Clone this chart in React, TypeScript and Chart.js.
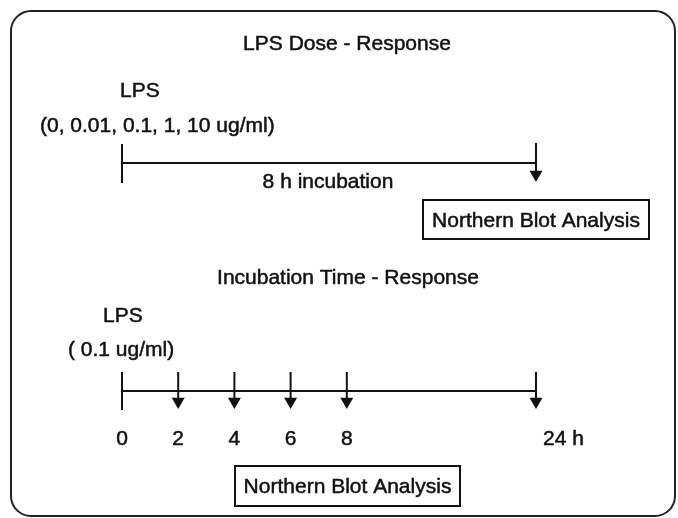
import React, { useEffect, useRef } from "react";
import { Chart, registerables } from "chart.js";

Chart.register(...registerables);

// ---------- data ----------
const doseTitle = "LPS Dose - Response";
const timeTitle = "Incubation Time - Response";
const agentLabel = "LPS";
const doseValues = [0, 0.01, 0.1, 1, 10];
const doseUnit = "ug/ml";
const fixedDose = [0.1];
const incubationHours = [8];
const sampleHours = [0, 2, 4, 6, 8, 24];
const assayLabel = "Northern Blot Analysis";

// ---------- layout (diagram units = px) ----------
const W = 678;
const H = 518;
const T0 = 122; // timeline origin
const TEND = 536; // timeline end
const PX_PER_H = 28.1;
const hourX = (h: number, last: number) => (h === last ? TEND : T0 + h * PX_PER_H);

const INK = "#111";
const FONT = '21px "Liberation Sans", Arial, sans-serif';
const HEAD = 7.5;

const upper = { lineY: 163, tickTop: 144, tickBot: 183, arrowTop: 143, tip: 182 };
const lower = { lineY: 391, tickTop: 372, tickBot: 410, arrowTop: 372, tip: 409 };

export default function App() {
  const ref = useRef<HTMLCanvasElement | null>(null);

  useEffect(() => {
    if (!ref.current) return;
    const lastH = sampleHours[sampleHours.length - 1];
    const seg = (pts: { x: number; y: number }[]) => ({
      type: "line" as const,
      data: pts,
      borderColor: INK,
      borderWidth: 2,
      pointRadius: 0,
      showLine: true,
      fill: false,
      tension: 0,
    });

    const datasets: any[] = [];
    // upper timeline
    datasets.push(seg([{ x: T0, y: upper.lineY }, { x: TEND, y: upper.lineY }]));
    datasets.push(seg([{ x: T0, y: upper.tickTop }, { x: T0, y: upper.tickBot }]));
    const upArrowX = TEND;
    datasets.push(seg([{ x: upArrowX, y: upper.arrowTop }, { x: upArrowX, y: upper.tip - HEAD }]));
    // lower timeline
    datasets.push(seg([{ x: T0, y: lower.lineY }, { x: TEND, y: lower.lineY }]));
    datasets.push(seg([{ x: T0, y: lower.tickTop }, { x: T0, y: lower.tickBot }]));
    sampleHours.slice(1).forEach((h) => {
      const x = hourX(h, lastH);
      datasets.push(seg([{ x, y: lower.arrowTop }, { x, y: lower.tip - HEAD }]));
    });
    // arrowheads
    datasets.push({
      type: "scatter",
      data: [
        { x: upArrowX, y: upper.tip - HEAD },
        ...sampleHours.slice(1).map((h) => ({ x: hourX(h, lastH), y: lower.tip - HEAD })),
      ],
      pointStyle: "triangle",
      rotation: 180,
      pointRadius: HEAD,
      backgroundColor: INK,
      borderColor: INK,
      borderWidth: 0,
      showLine: false,
    });

    const textPlugin = {
      id: "diagramText",
      beforeDatasetsDraw(chart: any) {
        const { ctx, scales } = chart;
        const X = (v: number) => scales.x.getPixelForValue(v);
        const Y = (v: number) => scales.y.getPixelForValue(v);
        ctx.save();
        // frame
        ctx.strokeStyle = "#222";
        ctx.lineWidth = 2;
        ctx.beginPath();
        (ctx as any).roundRect(X(11), Y(11), X(675) - X(11), Y(516) - Y(11), 20);
        ctx.stroke();
        // boxes
        ctx.lineWidth = 2;
        ctx.strokeStyle = INK;
        ctx.strokeRect(X(423), Y(200), X(649) - X(423), Y(239) - Y(200));
        ctx.strokeRect(X(235), Y(466), X(460) - X(235), Y(506) - Y(466));
        ctx.restore();
      },
      afterDatasetsDraw(chart: any) {
        const { ctx, scales } = chart;
        const X = (v: number) => scales.x.getPixelForValue(v);
        const Y = (v: number) => scales.y.getPixelForValue(v);
        const lastH2 = sampleHours[sampleHours.length - 1];
        ctx.save();
        ctx.fillStyle = INK;
        ctx.strokeStyle = INK;
        ctx.lineWidth = 0.5;
        ctx.font = FONT;
        ctx.textBaseline = "alphabetic";
        const t = (s: string, x: number, y: number, align: CanvasTextAlign) => {
          ctx.textAlign = align;
          ctx.fillText(s, X(x), Y(y));
          ctx.strokeText(s, X(x), Y(y));
        };
        t(doseTitle, 347, 50, "center");
        t(agentLabel, 120, 97, "left");
        t(`(${doseValues.join(", ")} ${doseUnit})`, 40, 132, "left");
        t(`${incubationHours[0]} h incubation`, 328, 188, "center");
        t(assayLabel, 536, 227, "center");

        t(timeTitle, 348, 284, "center");
        t(agentLabel, 103, 322, "left");
        t(`( ${fixedDose[0]} ${doseUnit})`, 68, 356, "left");
        sampleHours.forEach((h) => {
          if (h === lastH2) t(`${h} h`, 543, 445, "left");
          else t(String(h), hourX(h, lastH2), 445, "center");
        });
        t(assayLabel, 347.5, 493, "center");
        ctx.restore();
      },
    };

    const chart = new Chart(ref.current, {
      type: "scatter",
      data: { datasets },
      options: {
        animation: false,
        responsive: false,
        devicePixelRatio: 1,
        layout: { padding: 0, autoPadding: false },
        plugins: { legend: { display: false }, tooltip: { enabled: false }, title: { display: false } },
        events: [],
        scales: {
          x: { type: "linear", min: 0, max: W, display: false },
          y: { type: "linear", min: 0, max: H, reverse: true, display: false },
        },
        elements: { line: { borderCapStyle: "butt" } },
      } as any,
      plugins: [textPlugin],
    });
    return () => chart.destroy();
  }, []);

  return (
    <div style={{ position: "absolute", left: 0, top: 0, width: W, height: H, background: "#fff" }}>
      <canvas ref={ref} width={W} height={H} style={{ display: "block" }} />
    </div>
  );
}
